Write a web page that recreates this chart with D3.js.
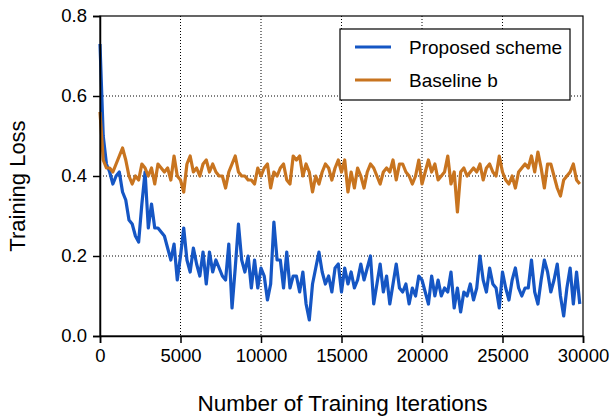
<!DOCTYPE html>
<html lang="en">
<head>
<meta charset="UTF-8">
<title>Training Loss</title>
<script src="https://cdn.jsdelivr.net/npm/d3@7"></script>
<style>
body{ margin:0; background:#fff; }
svg text{ font-family:"Liberation Sans", Arial, Helvetica, sans-serif; fill:#000; }
.grid line{ stroke:#000; stroke-width:1px; stroke-dasharray:1,2; }
.axis path, .axis line{ stroke:#000; stroke-width:1.5px; }
</style>
</head>
<body>
<script>
var step = 200;
var proposed = [
  0.73,0.50,0.43,0.41,0.38,0.40,0.41,0.36,0.34,0.29,
  0.28,0.25,0.235,0.33,0.41,0.27,0.33,0.27,0.27,0.26,
  0.25,0.22,0.19,0.23,0.14,0.20,0.27,0.19,0.16,0.22,
  0.18,0.15,0.21,0.13,0.21,0.16,0.19,0.17,0.15,0.14,
  0.23,0.07,0.17,0.28,0.19,0.16,0.20,0.12,0.19,0.12,
  0.17,0.15,0.09,0.13,0.285,0.19,0.19,0.12,0.21,0.12,
  0.15,0.15,0.11,0.16,0.08,0.04,0.13,0.17,0.21,0.16,
  0.13,0.15,0.11,0.17,0.18,0.11,0.17,0.13,0.16,0.12,
  0.14,0.18,0.14,0.17,0.20,0.08,0.13,0.18,0.11,0.15,
  0.08,0.13,0.18,0.12,0.11,0.13,0.08,0.12,0.10,0.15,
  0.14,0.11,0.08,0.15,0.10,0.14,0.10,0.12,0.11,0.16,
  0.07,0.12,0.06,0.11,0.10,0.13,0.09,0.12,0.20,0.14,
  0.11,0.17,0.13,0.12,0.07,0.16,0.12,0.09,0.14,0.17,
  0.12,0.10,0.12,0.12,0.19,0.11,0.08,0.14,0.19,0.16,
  0.11,0.14,0.18,0.10,0.05,0.12,0.17,0.08,0.16,0.08
];
var baseline = [
  0.56,0.44,0.42,0.42,0.41,0.43,0.45,0.47,0.44,0.40,
  0.38,0.40,0.39,0.43,0.42,0.40,0.42,0.38,0.43,0.42,
  0.41,0.42,0.39,0.45,0.40,0.39,0.36,0.43,0.45,0.41,
  0.42,0.40,0.43,0.44,0.41,0.43,0.41,0.40,0.40,0.37,
  0.41,0.43,0.45,0.41,0.40,0.40,0.39,0.39,0.38,0.42,
  0.40,0.42,0.43,0.37,0.41,0.40,0.42,0.43,0.39,0.38,
  0.45,0.44,0.45,0.40,0.43,0.41,0.36,0.40,0.38,0.41,
  0.43,0.42,0.39,0.42,0.44,0.41,0.44,0.36,0.41,0.37,
  0.42,0.40,0.37,0.41,0.43,0.42,0.40,0.38,0.41,0.42,
  0.41,0.44,0.39,0.43,0.43,0.41,0.40,0.38,0.40,0.44,
  0.38,0.41,0.44,0.41,0.43,0.39,0.40,0.41,0.45,0.38,
  0.41,0.31,0.41,0.42,0.40,0.41,0.42,0.41,0.43,0.39,
  0.42,0.43,0.41,0.40,0.45,0.41,0.39,0.38,0.40,0.37,
  0.41,0.42,0.43,0.42,0.45,0.41,0.46,0.42,0.37,0.43,
  0.43,0.40,0.37,0.35,0.39,0.40,0.41,0.43,0.39,0.38
];
var xTicks = [0,5000,10000,15000,20000,25000,30000];
var yTicks = [0.0,0.2,0.4,0.6,0.8];
var seriesNames = ["Proposed scheme","Baseline b"];
var seriesColors = ["#1556c4","#c8741f"];

var W = 610, H = 420, m = {l:100, r:27, t:16, b:84};
var pw = W - m.l - m.r, ph = H - m.t - m.b;

var svg = d3.select("body").append("svg").attr("width", W).attr("height", H);
var g = svg.append("g").attr("transform", "translate(" + m.l + "," + m.t + ")");

var x = d3.scaleLinear().domain([0,30000]).range([0,pw]);
var y = d3.scaleLinear().domain([0,0.8]).range([ph,0]);

// dotted grid
var grid = g.append("g").attr("class","grid");
grid.selectAll(".gx").data(xTicks.slice(1,-1)).enter().append("line")
  .attr("x1",function(d){ return x(d); }).attr("x2",function(d){ return x(d); })
  .attr("y1",0).attr("y2",ph);
grid.selectAll(".gy").data(yTicks.slice(1,-1)).enter().append("line")
  .attr("y1",function(d){ return y(d); }).attr("y2",function(d){ return y(d); })
  .attr("x1",0).attr("x2",pw);

var line = d3.line()
  .x(function(d,i){ return x(i*step); })
  .y(function(d){ return y(d); });

[proposed, baseline].forEach(function(s,k){
  g.append("path").datum(s)
    .attr("fill","none")
    .attr("stroke",seriesColors[k])
    .attr("stroke-width",3.2)
    .attr("stroke-linejoin","round")
    .attr("d",line);
});

// frame
g.append("rect").attr("width",pw).attr("height",ph)
  .attr("fill","none").attr("stroke","#000").attr("stroke-width",1.2);

var xAxis = g.append("g").attr("class","axis").attr("transform","translate(0,"+ph+")")
  .call(d3.axisBottom(x).tickValues(xTicks).tickSize(7).tickPadding(6).tickFormat(d3.format("d")));
var yAxis = g.append("g").attr("class","axis")
  .call(d3.axisLeft(y).tickValues(yTicks).tickSize(7).tickPadding(6).tickFormat(d3.format(".1f")));
[xAxis,yAxis].forEach(function(a){
  a.selectAll("text").attr("font-size",18.5).attr("font-family",null);
  a.attr("font-family",null);
});

svg.append("text").attr("x", m.l + pw/2 + 1).attr("y", 411)
  .attr("text-anchor","middle").attr("font-size",22.5).text("Number of Training Iterations");
svg.append("text").attr("transform","translate(25," + (m.t + ph/2 + 10) + ") rotate(-90)")
  .attr("text-anchor","middle").attr("font-size",22).text("Training Loss");

// legend
var lg = svg.append("g").attr("transform","translate(340,29)");
lg.append("rect").attr("width",230).attr("height",71)
  .attr("fill","#fff").attr("stroke","#000").attr("stroke-width",1.2);
seriesNames.forEach(function(n,k){
  var yy = 18 + k*33;
  lg.append("line").attr("x1",15).attr("x2",51).attr("y1",yy).attr("y2",yy)
    .attr("stroke",seriesColors[k]).attr("stroke-width",3.2);
  lg.append("text").attr("x",69).attr("y",yy).attr("dy","0.35em")
    .attr("font-size",19).text(n);
});
</script>
</body>
</html>
